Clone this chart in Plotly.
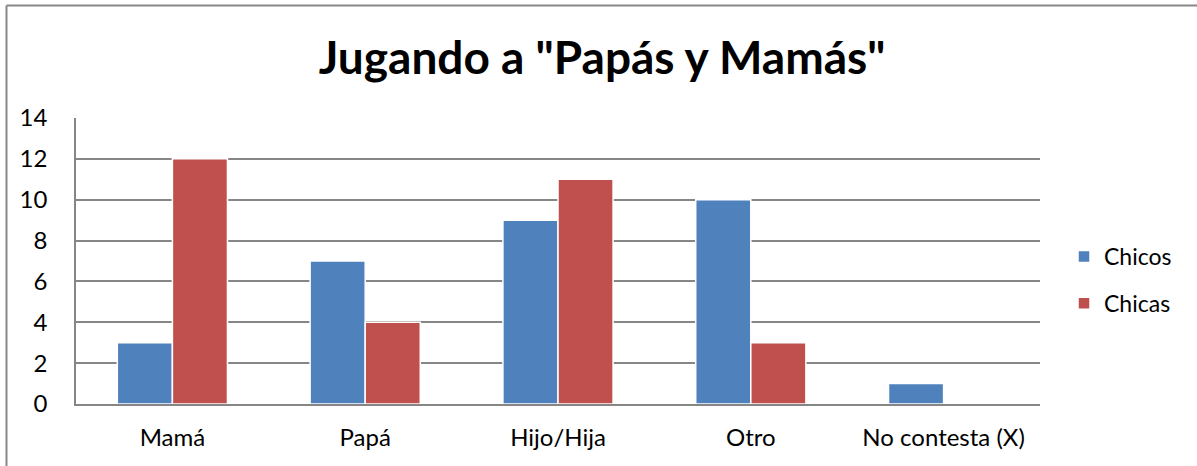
import plotly.graph_objects as go

categories = ["Mamá", "Papá", "Hijo/Hija", "Otro", "No contesta (X)"]
chicos = [3, 7, 9, 10, 1]
chicas = [12, 4, 11, 3, 0]
y_ticks = [0, 2, 4, 6, 8, 10, 12, 14]

W, H = 1197, 466
L, R, T, B = 76, 157, 118, 62
pw, ph = W - L - R, H - T - B

def px_x(px):
    return (px - L) / pw

def px_y(py):
    return (H - B - py) / ph

font = "Lato, Carlito, Calibri, sans-serif"

fig = go.Figure()
fig.add_trace(go.Bar(name="Chicos", x=categories, y=chicos, marker=dict(color="#4F81BD", line=dict(color="white", width=1.5)), legendgroup="a"))
fig.add_trace(go.Bar(name="Chicas", x=categories, y=chicas, marker=dict(color="#C0504D", line=dict(color="white", width=1.5)), legendgroup="b"))

fig.update_layout(
    width=W, height=H,
    margin=dict(l=L, r=R, t=T, b=B),
    paper_bgcolor="white", plot_bgcolor="white",
    barmode="group", bargap=0.4286, bargroupgap=0.0,
    font=dict(family=font, size=24, color="black"),
    title=dict(text='<b>Jugando a "Papás y Mamás"</b>', x=0.503, xanchor="center", y=1 - 58 / H, yanchor="middle", yref="container",
               font=dict(family=font, size=46, color="black")),
    xaxis=dict(showline=True, linecolor="#868686", linewidth=1.5, ticks="", ticklabelstandoff=11, showgrid=False,
               tickfont=dict(size=24)),
    yaxis=dict(range=[0, 14], tickvals=y_ticks, showgrid=True, gridcolor="#868686", gridwidth=1.5,
               showline=True, linecolor="#868686", linewidth=1.5,
               ticks="outside", ticklen=22, tickcolor="rgba(0,0,0,0)",
               zeroline=False, tickfont=dict(size=24)),
    legend=dict(x=px_x(1064), xanchor="left", y=px_y(280), yanchor="middle", traceorder="grouped",
                tracegroupgap=14, font=dict(size=23), bgcolor="rgba(0,0,0,0)"),
    showlegend=True,
)

# outer chart border (top and left visible in reference)
fig.add_shape(type="line", xref="paper", yref="paper", x0=px_x(6.5), x1=px_x(1200), y0=px_y(5.5), y1=px_y(5.5),
              line=dict(color="#888888", width=2))
fig.add_shape(type="line", xref="paper", yref="paper", x0=px_x(6.5), x1=px_x(6.5), y0=px_y(5.5), y1=px_y(470),
              line=dict(color="#888888", width=2))

fig.write_html("out.html", config={"displayModeBar": False},
               post_script="document.body.style.margin='0';")
